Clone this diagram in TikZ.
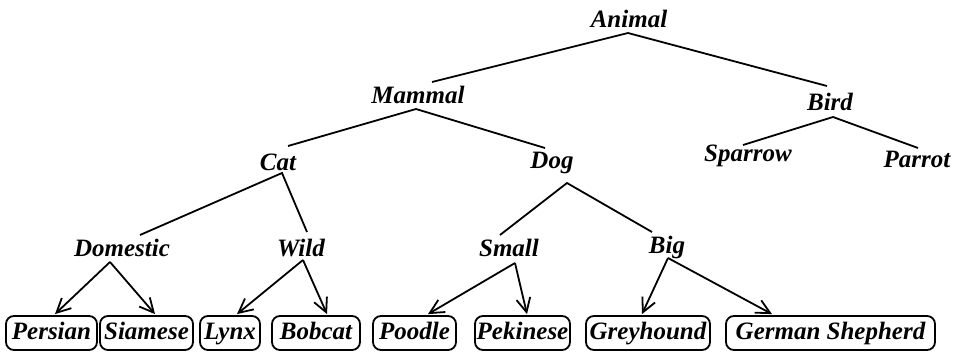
\documentclass[tikz,border=0pt]{standalone}
\usepackage{fontspec}
\setmainfont{Liberation Serif}
\usetikzlibrary{arrows.meta}
\begin{document}
\begin{tikzpicture}[x=1pt,y=-1pt,
  lbl/.style={anchor=base,inner sep=0pt,font=\fontsize{25}{28}\selectfont\bfseries\itshape},
  leaf/.style={draw,rounded corners=8pt,line width=1.8pt,minimum height=34pt,inner sep=0pt,
    text height=17pt,text depth=5pt,
    font=\fontsize{25}{28}\selectfont\bfseries\itshape},
  edge/.style={line width=1.8pt},
  arr/.style={line width=1.8pt,-{Straight Barb[length=14pt,width=14pt]}}]
\useasboundingbox (0,0) rectangle (959,354);
% internal labels
\node[lbl] (animal) at (629,27) {Animal};
\node[lbl] (mammal) at (418,103) {Mammal};
\node[lbl] (bird) at (830,110) {Bird};
\node[lbl] (cat) at (278,170) {Cat};
\node[lbl] (dog) at (552,168) {Dog};
\node[lbl] (sparrow) at (748,161) {Sparrow};
\node[lbl] (parrot) at (917,167) {Parrot};
\node[lbl] (domestic) at (122,256) {Domestic};
\node[lbl] (wild) at (301,256) {Wild};
\node[lbl] (small) at (509,256) {Small};
\node[lbl] (big) at (667,253) {Big};
% leaves
\node[leaf,minimum width=91pt] (persian) at (51.5,333) {Persian};
\node[leaf,minimum width=93pt] (siamese) at (146.5,333) {Siamese};
\node[leaf,minimum width=60pt] (lynx) at (230,333) {Lynx};
\node[leaf,minimum width=88pt] (bobcat) at (316,333) {Bobcat};
\node[leaf,minimum width=83pt] (poodle) at (414.5,333) {Poodle};
\node[leaf,minimum width=95pt] (pekinese) at (522.5,333) {Pekinese};
\node[leaf,minimum width=124pt] (greyhound) at (648,333) {Greyhound};
\node[leaf,minimum width=209pt] (german) at (830.5,333) {German Shepherd};
% tree edges
\draw[edge] ([shift={(14,-21)}]mammal.base) -- ([shift={(-1,6)}]animal.base) -- ([shift={(-3,-24)}]bird.base);
\draw[edge] ([shift={(10,-24)}]cat.base) -- ([shift={(-2,6)}]mammal.base) -- ([shift={(-7,-20)}]dog.base);
\draw[edge] ([shift={(-5,-16)}]sparrow.base) -- ([shift={(3,7)}]bird.base) -- ([shift={(1,-19)}]parrot.base);
\draw[edge] ([shift={(18,-21)}]domestic.base) -- ([shift={(4,3)}]cat.base) -- ([shift={(6,-24)}]wild.base);
\draw[edge] ([shift={(-9,-21)}]small.base) -- ([shift={(15,15)}]dog.base) -- ([shift={(-15,-21)}]big.base);
% arrows to leaves
\draw[arr] ([shift={(-12,6)}]domestic.base) -- ([shift={(3.5,-1)}]persian.north);
\draw[arr] ([shift={(-12,6)}]domestic.base) -- ([shift={(8.5,-1)}]siamese.north);
\draw[arr] ([shift={(2,4)}]wild.base) -- ([shift={(7,-1)}]lynx.north);
\draw[arr] ([shift={(2,4)}]wild.base) -- ([shift={(11,-1)}]bobcat.north);
\draw[arr] ([shift={(6,7)}]small.base) -- ([shift={(13.5,-1)}]poodle.north);
\draw[arr] ([shift={(6,7)}]small.base) -- ([shift={(4.5,-1)}]pekinese.north);
\draw[arr] ([shift={(1,5)}]big.base) -- ([shift={(-6,-1)}]greyhound.north);
\draw[arr] ([shift={(1,5)}]big.base) -- ([shift={(-58.5,-1)}]german.north);
\end{tikzpicture}
\end{document}
